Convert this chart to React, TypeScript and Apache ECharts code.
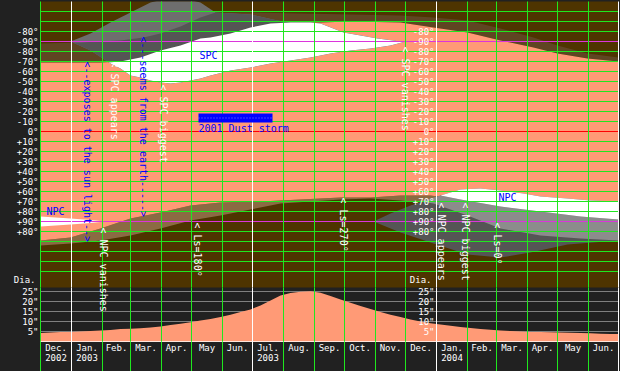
import React, { useEffect, useRef } from 'react';
import * as echarts from 'echarts';

type P = [number, number];

// ---- time axis (days from 1 Dec 2002) ----
const DAY_MAX = 578;
const monthStarts = [0, 31, 62, 90, 121, 151, 182, 212, 243, 274, 304, 335, 365, 396, 427, 456, 487, 517, 548, 578];
const monthNames = ['Dec.', 'Jan.', 'Feb.', 'Mar.', 'Apr.', 'May', 'Jun.', 'Jul.', 'Aug.', 'Sep.', 'Oct.', 'Nov.', 'Dec.', 'Jan.', 'Feb.', 'Mar.', 'Apr.', 'May', 'Jun.'];
const monthYears = ['2002', '2003', '', '', '', '', '', '2003', '', '', '', '', '', '2004', '', '', '', '', ''];
const yearLineDays = [31, 212, 396, 578];
const secondScaleDay = 396;

// ---- latitude axis ----
const latTickValues = [-100, -90, -80, -70, -60, -50, -40, -30, -20, -10, 0, 10, 20, 30, 40, 50, 60, 70, 80, 90, 100];
const latTickLabels = ['-80°', '-90°', '-80°', '-70°', '-60°', '-50°', '-40°', '-30°', '-20°', '-10°', '0°', '+10°', '+20°', '+30°', '+40°', '+50°', '+60°', '+70°', '+80°', '+90°', '+80°'];
const latGridValues = [-120, -110, -100, -90, -80, -70, -60, -50, -40, -30, -20, -10, 0, 10, 20, 30, 40, 50, 60, 70, 80, 90, 100, 110, 120, 130, 140];

// ---- apparent diameter ----
const DIA_MAX = 27;
const diaTickValues = [5, 10, 15, 20, 25];
const diaTickLabels = ['5"', '10"', '15"', '20"', '25"'];
const diaDays = [0, 10, 20, 30, 40, 50, 60, 70, 80, 90, 100, 110, 120, 130, 140, 150, 160, 170, 180, 190, 200, 210, 220, 230, 240, 250, 260, 270, 280, 290, 300, 310, 320, 330, 340, 350, 360, 370, 380, 390, 400, 410, 420, 430, 440, 450, 460, 470, 480, 490, 500, 510, 520, 530, 540, 550, 560, 570, 578];
const diaValues = [4.2, 4.5, 4.8, 4.8, 5.0, 5.2, 5.5, 5.8, 6.2, 6.4, 6.6, 7.0, 7.5, 8.2, 8.9, 9.6, 10.5, 11.2, 12.2, 13.4, 14.7, 16.0, 18.0, 20.5, 23.0, 24.3, 24.9, 25.1, 24.4, 22.7, 21.0, 19.4, 17.8, 16.2, 14.8, 13.4, 12.2, 11.0, 10.0, 9.1, 8.5, 7.9, 7.2, 6.7, 6.2, 5.9, 5.5, 5.2, 5.0, 4.8, 4.7, 4.6, 4.5, 4.4, 4.2, 4.1, 3.9, 3.8, 3.7];

// ---- limits [day, latitude position] ----
const earthTop: P[] = [[0, -88], [40, -89], [80, -91], [103, -94], [120, -98], [140, -105], [160, -114], [175, -119], [210, -119], [260, -118], [310, -117], [360, -116], [393, -114], [427, -111], [460, -103], [493, -94], [517, -86], [547, -78], [578, -74]];
const sunTop: P[] = [[0, -69], [60, -69], [80, -70], [100, -74], [120, -81], [140, -86], [160, -93], [170, -94], [190, -98], [210, -104], [230, -108], [250, -109], [280, -109], [310, -110], [360, -109], [393, -104], [427, -99], [460, -91], [493, -84], [517, -78], [547, -73], [578, -70]];
const earthBottom: P[] = [[0, 109], [30, 106], [60, 97], [90, 87], [120, 81], [150, 74], [180, 71], [220, 70], [260, 68], [300, 66], [330, 66], [360, 64], [390, 64], [420, 68], [460, 75], [500, 80], [540, 85], [578, 88]];
const sunBottom: P[] = [[0, 114], [30, 112], [60, 109], [90, 104], [120, 97], [150, 89], [180, 84], [210, 78], [240, 72], [270, 70], [300, 68], [330, 67], [360, 69], [393, 72], [427, 84], [460, 97], [500, 104], [540, 107], [578, 109]];

// south polar cap
const spcTop: P[] = [[30, -90], [50, -98], [70, -109], [90, -119], [110, -129], [135, -135], [160, -129], [175, -119], [210, -117], [237, -111], [250, -109], [270, -109], [280, -108], [303, -99], [320, -96], [337, -93], [360, -90], [365, -90]];
const spcBottom: P[] = [[30, -90], [50, -81], [70, -68], [80, -63], [90, -56], [100, -54], [110, -51], [120, -49], [130, -48], [140, -49], [150, -51], [160, -53], [170, -56], [190, -61], [210, -64], [230, -68], [250, -71], [270, -74], [290, -78], [310, -81], [330, -83], [350, -86], [365, -90]];
const spcSeenTop: P[] = [[32, -89], [40, -89], [80, -91], [103, -94], [120, -98], [140, -105], [160, -114], [175, -119], [210, -117], [237, -111], [250, -109], [270, -109], [280, -108], [303, -99], [320, -96], [337, -93], [360, -90], [365, -90]];
const spcLitTop: P[] = [[68, -69], [80, -70], [100, -74], [120, -81], [140, -86], [160, -93], [170, -94], [190, -98], [210, -104], [230, -108], [250, -109], [270, -109], [280, -108], [303, -99], [320, -96], [337, -93], [360, -90], [365, -90]];
const spcLitBottom: P[] = [[68, -69], [70, -68], [80, -63], [90, -56], [100, -54], [110, -51], [120, -49], [130, -48], [140, -49], [150, -51], [160, -53], [170, -56], [190, -61], [210, -64], [230, -68], [250, -71], [270, -74], [290, -78], [310, -81], [330, -83], [350, -86], [365, -90]];

// north polar cap
const npcTop: P[] = [[333, 90], [350, 82], [370, 74], [397, 65], [420, 58], [440, 57], [460, 59], [483, 62], [500, 65], [527, 67], [550, 69], [578, 70]];
const npcBottom: P[] = [[333, 90], [360, 101], [393, 112], [427, 123], [460, 126], [490, 121], [527, 113], [578, 109]];
const npcLitTop: P[] = [[380, 70], [400, 64], [420, 68], [460, 75], [500, 80], [540, 85], [578, 88]];
const npcLitBottom: P[] = [[380, 70], [393, 72], [427, 84], [460, 97], [500, 104], [540, 107], [578, 109]];
const npcSeenTop: P[] = [[400, 64], [420, 58], [440, 57], [460, 59], [483, 62], [500, 65], [527, 67], [550, 69], [578, 70]];
const npcSeenBottom: P[] = [[400, 64], [420, 68], [460, 75], [500, 80], [540, 85], [578, 88]];
const npcOldTop: P[] = [[0, 85], [30, 87], [50, 88.5], [65, 90]];
const npcOldBottom: P[] = [[0, 95], [30, 93], [50, 91.5], [65, 90]];

// ---- annotations [day, lat, text] ----
const whiteNotes: [number, number, string][] = [
  [74, -70, '< SPC appears'],
  [123, -47, '< SPC biggest'],
  [365, -85, '< SPC vanishes'],
  [63, 96, '< NPC vanishes'],
  [157, 91, '< Ls=180°'],
  [303, 66, '< Ls=270°'],
  [401, 71, '< NPC appears'],
  [425, 71, '< NPC biggest'],
  [457, 91, '< Ls=0°'],
];
const blueArrows: [number, number, string][] = [
  [47, -70, '<--exposes to the sun light-->'],
  [103, -95, '<---seems from the earth----->'],
];
const blueLabels: [number, number, string][] = [
  [159, -76, 'SPC'],
  [458, 66, 'NPC'],
  [6, 80, 'NPC'],
  [158, -3, '2001 Dust storm'],
];
const dustStormDays = [158, 232];
const dustStormLats = [-18, -9];

// ---- colours ----
const C_NIGHT = '#4e3400';
const C_SEEN_DARK = '#5f4522';
const C_LIT_UNSEEN = '#8b6b43';
const C_LIT = '#ff9a76';
const C_GREEN = '#1fe81f';
const FONT = '"DejaVu Sans Mono", monospace';
const TICK_FONT = `9px ${FONT}`;

type Region = { upper: P[]; lower: P[]; color: string };
const regions: Region[] = [
  { upper: earthTop, lower: sunTop, color: C_SEEN_DARK },
  { upper: earthBottom, lower: sunBottom, color: C_LIT_UNSEEN },
  { upper: sunTop, lower: earthBottom, color: C_LIT },
  { upper: spcTop, lower: spcBottom, color: '#6e6e6e' },
  { upper: spcSeenTop, lower: spcBottom, color: '#555555' },
  { upper: spcLitTop, lower: spcLitBottom, color: '#ffffff' },
  { upper: npcTop, lower: npcBottom, color: '#555555' },
  { upper: npcLitTop, lower: npcLitBottom, color: '#8c8c8c' },
  { upper: npcSeenTop, lower: npcSeenBottom, color: '#ffffff' },
  { upper: npcOldTop, lower: npcOldBottom, color: '#ffffff' },
];

const latFmt = (v: number) => {
  const i = latTickValues.indexOf(v);
  return i >= 0 ? latTickLabels[i] : '';
};
const diaFmt = (v: number) => {
  const i = diaTickValues.indexOf(v);
  return i >= 0 ? diaTickLabels[i] : '';
};

const labelStyle = { color: '#ffffff', fontFamily: FONT, fontSize: 9, margin: 2 };

const monthLineSeries = (xi: number, yi: number, y0: number, y1: number) => ({
  type: 'custom',
  xAxisIndex: xi,
  yAxisIndex: yi,
  z: 6,
  silent: true,
  data: monthStarts.map((d) => [d, y0]),
  renderItem: (params: any, api: any) => {
    const d = api.value(0);
    const a = api.coord([d, y0]);
    const b = api.coord([d, y1]);
    return {
      type: 'line',
      shape: { x1: a[0], y1: a[1], x2: b[0], y2: b[1] },
      style: { stroke: yearLineDays.indexOf(d) >= 0 ? '#ffffff' : C_GREEN, lineWidth: 1 },
    };
  },
});

// second (inner) scale placed at the Jan. 2004 line
const innerScaleSeries = (yi: number, values: number[], labels: string[], name: string, top: number) => ({
  type: 'custom',
  xAxisIndex: yi === 0 ? 0 : 1,
  yAxisIndex: yi,
  z: 8,
  silent: true,
  clip: false,
  data: values.map((v) => [secondScaleDay, v]).concat([[secondScaleDay, top]]),
  renderItem: (params: any, api: any) => {
    const i = params.dataIndex;
    const p = api.coord([api.value(0), api.value(1)]);
    if (i === values.length) {
      if (!name) return null;
      return {
        type: 'text', x: p[0] - 5, y: p[1] - 3,
        style: { text: name, fill: '#ffffff', font: TICK_FONT, align: 'right', verticalAlign: 'bottom' },
      };
    }
    return {
      type: 'text', x: p[0] - 2, y: p[1],
      style: { text: labels[i], fill: '#ffffff', font: TICK_FONT, align: 'right', verticalAlign: 'middle' },
    };
  },
});

const textEl = (api: any, day: number, lat: number, text: string, color: string, vertical: boolean) => {
  const p = api.coord([day, lat]);
  return {
    type: 'text',
    x: p[0],
    y: p[1],
    rotation: vertical ? -Math.PI / 2 : 0,
    style: { text, fill: color, font: `10px ${FONT}`, align: 'left', verticalAlign: 'middle' },
  };
};

const allNotes = [
  ...whiteNotes.map((n) => ({ n, color: '#ffffff', vertical: true })),
  ...blueArrows.map((n) => ({ n, color: '#0000ff', vertical: true })),
  ...blueLabels.map((n) => ({ n, color: '#0000ff', vertical: false })),
];

const option: any = {
  animation: false,
  backgroundColor: '#212121',
  grid: [
    { left: 40.5, top: 1.5, width: 578, height: 286, show: true, backgroundColor: C_NIGHT, borderWidth: 0 },
    { left: 40.5, top: 287.5, width: 578, height: 54 },
    { left: 40.5, top: 341.5, width: 578, height: 30 },
  ],
  xAxis: [0, 1, 2].map((i) => ({
    type: 'value',
    gridIndex: i,
    min: 0,
    max: DAY_MAX,
    show: i === 1,
    axisLine: { show: true, onZero: false, lineStyle: { color: '#ffffff', width: 1 } },
    axisTick: { show: false },
    axisLabel: { show: false },
    splitLine: { show: false },
  })),
  yAxis: [
    {
      type: 'value', gridIndex: 0, min: -130, max: 156, interval: 10, inverse: true,
      axisLine: { show: false }, axisTick: { show: false }, splitLine: { show: false },
      axisLabel: { ...labelStyle, formatter: latFmt },
    },
    {
      type: 'value', gridIndex: 1, min: 0, max: DIA_MAX, interval: 5,
      axisLine: { show: false }, axisTick: { show: false }, splitLine: { show: false },
      axisLabel: { ...labelStyle, formatter: diaFmt },
      name: 'Dia.', nameLocation: 'end', nameGap: 3,
      nameTextStyle: { color: '#ffffff', fontFamily: FONT, fontSize: 9, align: 'right', verticalAlign: 'bottom', padding: [0, 5, 0, 0] },
    },
    { type: 'value', gridIndex: 2, min: 0, max: 30, inverse: true, show: false },
  ],
  series: [
    {
      type: 'custom', xAxisIndex: 0, yAxisIndex: 0, z: 1, clip: true, silent: true,
      data: regions.map((_, i) => [i, 0]),
      renderItem: (params: any, api: any) => {
        const r = regions[params.dataIndex];
        const pts = r.upper.map((p) => api.coord(p)).concat(r.lower.slice().reverse().map((p) => api.coord(p)));
        return { type: 'polygon', shape: { points: pts }, style: { fill: r.color } };
      },
    },
    {
      type: 'custom', xAxisIndex: 0, yAxisIndex: 0, z: 5, silent: true,
      data: latGridValues.map((v) => [0, v]),
      renderItem: (params: any, api: any) => {
        const v = api.value(1);
        const a = api.coord([0, v]);
        const b = api.coord([DAY_MAX, v]);
        const color = v === 0 ? '#ff0000' : Math.abs(v) === 90 ? '#dd33dd' : C_GREEN;
        return { type: 'line', shape: { x1: a[0], y1: a[1], x2: b[0], y2: b[1] }, style: { stroke: color, lineWidth: 1 } };
      },
    },
    monthLineSeries(0, 0, -130, 156),
    {
      type: 'custom', xAxisIndex: 0, yAxisIndex: 0, z: 7, silent: true,
      data: [[dustStormDays[0], dustStormLats[0]]],
      renderItem: (params: any, api: any) => {
        const a = api.coord([dustStormDays[0], dustStormLats[0]]);
        const b = api.coord([dustStormDays[1], dustStormLats[1]]);
        const my = (a[1] + b[1]) / 2;
        return {
          type: 'group',
          children: [
            { type: 'rect', shape: { x: a[0], y: a[1], width: b[0] - a[0], height: b[1] - a[1] }, style: { fill: '#0000ff' } },
            { type: 'line', shape: { x1: a[0], y1: my, x2: b[0], y2: my }, style: { stroke: '#8080ff', lineWidth: 1, lineDash: [1, 2] } },
          ],
        };
      },
    },
    {
      type: 'custom', xAxisIndex: 0, yAxisIndex: 0, z: 9, silent: true,
      data: allNotes.map((a) => [a.n[0], a.n[1]]),
      renderItem: (params: any, api: any) => {
        const a = allNotes[params.dataIndex];
        return textEl(api, a.n[0], a.n[1], a.n[2], a.color, a.vertical);
      },
    },
    innerScaleSeries(0, latTickValues, latTickLabels, '', -130),
    {
      type: 'custom', xAxisIndex: 1, yAxisIndex: 1, z: 1, silent: true,
      data: diaTickValues.map((v) => [0, v]),
      renderItem: (params: any, api: any) => {
        const v = api.value(1);
        const a = api.coord([0, v]);
        const b = api.coord([DAY_MAX, v]);
        return { type: 'line', shape: { x1: a[0], y1: a[1], x2: b[0], y2: b[1] }, style: { stroke: '#808080', lineWidth: 1 } };
      },
    },
    {
      type: 'line', xAxisIndex: 1, yAxisIndex: 1, z: 2, silent: true,
      data: diaDays.map((d, i) => [d, diaValues[i]]),
      showSymbol: false,
      lineStyle: { width: 0 },
      areaStyle: { color: C_LIT, opacity: 1 },
    },
    innerScaleSeries(1, diaTickValues, diaTickLabels, 'Dia.', DIA_MAX),
    monthLineSeries(1, 1, 0, DIA_MAX),
    monthLineSeries(2, 2, 0, 30),
    {
      type: 'custom', xAxisIndex: 2, yAxisIndex: 2, z: 7, silent: true,
      data: monthNames.map((_, i) => [(monthStarts[i] + monthStarts[i + 1]) / 2, 1.5]),
      renderItem: (params: any, api: any) => {
        const i = params.dataIndex;
        const p = api.coord([api.value(0), api.value(1)]);
        const text = monthYears[i] ? monthNames[i] + '\n' + monthYears[i] : monthNames[i];
        return {
          type: 'text', x: p[0], y: p[1],
          style: { text, fill: '#ffffff', font: TICK_FONT, align: 'center', verticalAlign: 'top', lineHeight: 10 },
        };
      },
    },
  ],
};

export default function App() {
  const ref = useRef<HTMLDivElement>(null);
  useEffect(() => {
    document.body.style.margin = '0';
    document.body.style.background = '#212121';
    const chart = echarts.init(ref.current as HTMLDivElement, null, { renderer: 'svg', width: 620, height: 371 });
    chart.setOption(option);
    return () => chart.dispose();
  }, []);
  return <div ref={ref} style={{ width: 620, height: 371, background: '#212121' }} />;
}
